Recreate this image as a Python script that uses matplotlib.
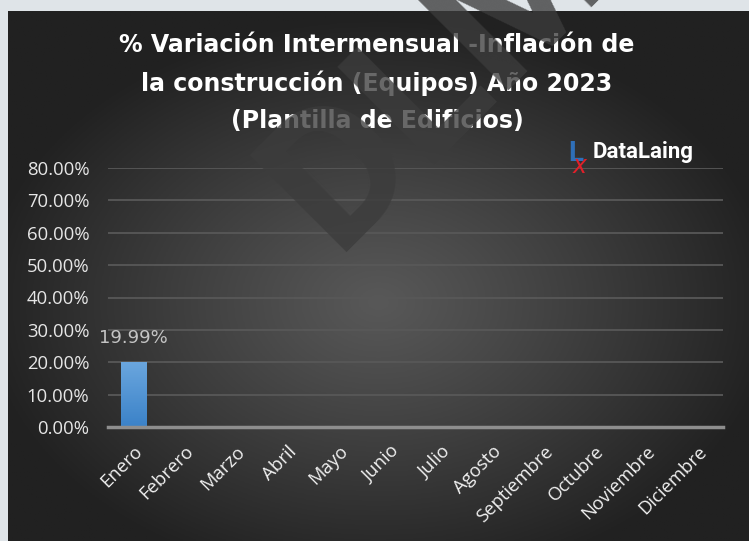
import numpy as np
import matplotlib.pyplot as plt
from matplotlib.ticker import FuncFormatter
from matplotlib.colors import LinearSegmentedColormap

# ---- data ----
months = ["Enero", "Febrero", "Marzo", "Abril", "Mayo", "Junio", "Julio",
          "Agosto", "Septiembre", "Octubre", "Noviembre", "Diciembre"]
values = [0.1999, np.nan, np.nan, np.nan, np.nan, np.nan, np.nan,
          np.nan, np.nan, np.nan, np.nan, np.nan]
y_ticks = [0.0, 0.1, 0.2, 0.3, 0.4, 0.5, 0.6, 0.7, 0.8]
title = "% Variación Intermensual -Inflación de\nla construcción (Equipos) Año 2023\n(Plantilla de Edificios)"

W, H = 749, 541
fig = plt.figure(figsize=(W / 100, H / 100), dpi=100)
fig.patch.set_facecolor("#dfe4e8")

def fx(px):
    return px / W

def fy(py):
    return 1 - py / H

# ---- dark panel with radial gradient ----
pl, pt, pr, pb = 8, 11, 749, 541
bg = fig.add_axes([fx(pl), fy(pb), fx(pr - pl), (pb - pt) / H], zorder=-5)
gx, gy = np.meshgrid(np.linspace(0, 1, 300), np.linspace(0, 1, 220))
r = np.sqrt(((gx - 0.5) / 0.75) ** 2 + ((gy - 0.55) / 0.75) ** 2)
r = np.clip(r / 0.72, 0, 1)
val = (88 - (88 - 33) * r ** 1.1) / 255.0
img = np.dstack([val, val, val])
bg.imshow(img, extent=[0, 1, 0, 1], aspect="auto", origin="upper")
bg.set_axis_off()

# ---- main axes ----
x0, x1 = 108, 723
y0, y80 = 427, 168
ax = fig.add_axes([fx(x0), fy(y0), fx(x1 - x0), (y0 - y80) / H])
ax.set_facecolor("none")
x = np.arange(len(months))
bars = ax.bar(x, values, width=0.5, color="#4a8fd3", zorder=3)
cm = LinearSegmentedColormap.from_list("g", ["#3b82c8", "#6aa6de"])
for b in bars:
    h = b.get_height()
    if np.isnan(h):
        continue
    grad = np.linspace(0, 1, 100).reshape(-1, 1)
    im = ax.imshow(grad, cmap=cm, origin="lower", aspect="auto",
                   extent=[b.get_x(), b.get_x() + b.get_width(), 0, h], zorder=3)
    im.set_clip_path(b)

ax.set_xlim(-0.5, len(months) - 0.5)
ax.set_ylim(0, 0.8)
ax.set_yticks(y_ticks)
ax.yaxis.set_major_formatter(FuncFormatter(lambda v, p: f"{v*100:.2f}%"))
ax.grid(axis="y", color="#585858", linewidth=1.3, zorder=0)
ax.set_axisbelow(True)
for s in ["top", "right", "left"]:
    ax.spines[s].set_visible(False)
ax.spines["bottom"].set_color("#8e8e8e")
ax.spines["bottom"].set_linewidth(2.5)
ax.spines["bottom"].set_zorder(4)
ax.tick_params(axis="y", length=0, pad=13.5, labelsize=13.3, labelcolor="#e6e6e6")
ax.tick_params(axis="x", length=0, pad=11, labelsize=13.3, labelcolor="#f0f0f0")
for lab in ax.get_yticklabels():
    lab.set_fontfamily("Open Sans")
ax.set_xticks(x)
ax.set_xticklabels(months, rotation=45, ha="right", rotation_mode="anchor",
                   fontfamily="Open Sans")

for xi, v in zip(x, values):
    if not np.isnan(v):
        ax.annotate(f"{v*100:.2f}%", (xi, v), xytext=(0, 11), textcoords="offset points",
                    ha="center", va="bottom", fontsize=13, color="#c4c4c4",
                    fontfamily="DejaVu Sans")

# ---- title ----
fig.text(fx(377), fy(83), title, ha="center", va="center", fontsize=17,
         fontweight="bold", color="white", linespacing=1.65, zorder=2,
         fontfamily="DejaVu Sans")

# ---- logo ----
fig.text(fx(568), fy(161), "L", fontsize=20, fontweight="bold", color="#2f6fb8",
         ha="left", va="baseline", zorder=2, fontfamily="Roboto")
fig.text(fx(573), fy(173), "x", fontsize=17, color="#e0202a", style="italic",
         ha="left", va="baseline", zorder=2)
fig.text(fx(593), fy(158), "DataLaing", fontsize=16, fontweight="bold", color="white",
         ha="left", va="baseline", zorder=2, fontfamily="Roboto")

# ---- watermark ----
fig.text(fx(335), fy(252), "DLM", fontsize=139, color="#3c3c3c", alpha=0.78,
         fontweight="bold", rotation=45, rotation_mode="anchor", ha="left",
         va="baseline", zorder=10, fontfamily="Roboto")

fig.savefig("out.png", dpi=100)
